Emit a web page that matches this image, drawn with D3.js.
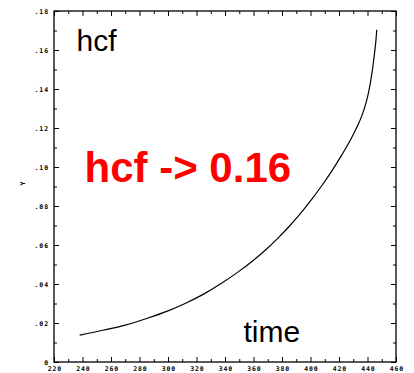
<!DOCTYPE html>
<html>
<head>
<meta charset="utf-8">
<script src="https://cdn.jsdelivr.net/npm/d3@7"></script>
<style>
  html, body { margin: 0; padding: 0; background: #fff; }
  svg { display: block; }
  .tick text { font-family: "DejaVu Sans Mono", monospace; font-weight: bold; font-size: 6.5px; letter-spacing: 0.9px; fill: #000; }
  .tick line { stroke: #000; stroke-width: 1; }
</style>
</head>
<body>
<svg id="chart" width="414" height="373"></svg>
<script>
// hcf as a function of time
const times = [238, 255, 270, 285, 300, 312, 325, 337, 350, 360, 369, 377, 385, 393, 400, 408, 415, 422, 428, 432, 436, 439, 441, 443, 444, 445, 446, 446.5];
const hcf   = [0.0138, 0.0164, 0.0189, 0.0223, 0.0262, 0.0300, 0.0348, 0.0401, 0.0466, 0.0522, 0.0578, 0.0634, 0.0695, 0.0762, 0.0826, 0.0905, 0.0980, 0.1062, 0.1138, 0.1196, 0.1262, 0.1330, 0.1392, 0.1476, 0.1528, 0.1588, 0.1656, 0.1704];

// axis ticks
const xMajorTicks = [220, 240, 260, 280, 300, 320, 340, 360, 380, 400, 420, 440, 460];
const xMinorTicks = [230, 250, 270, 290, 310, 330, 350, 370, 390, 410, 430, 450];
const yMajorTicks = [0, 0.02, 0.04, 0.06, 0.08, 0.10, 0.12, 0.14, 0.16, 0.18];
const yMinorTicks = [0.01, 0.03, 0.05, 0.07, 0.09, 0.11, 0.13, 0.15, 0.17];

const svg = d3.select("#chart");
const plotL = 54, plotR = 396, plotT = 11, plotB = 362;

const x = d3.scaleLinear().domain([220, 460]).range([plotL, plotR]);
const y = d3.scaleLinear().domain([0, 0.18]).range([plotB, plotT]);

const yFmt = d => d === 0 ? "0" : d3.format(".2f")(d).replace(/^0/, "");

function addAxis(axis, tx, ty) {
  const g = svg.append("g").attr("transform", `translate(${tx},${ty})`).call(axis);
  g.select(".domain").remove();
  return g;
}

// bottom
const gb = addAxis(d3.axisBottom(x).tickValues(xMajorTicks).tickSize(-5).tickSizeOuter(0).tickPadding(4.5).tickFormat(d3.format("d")), 0, plotB);
gb.selectAll("text").attr("dx", "0.45px");
addAxis(d3.axisBottom(x).tickValues(xMinorTicks).tickSize(-3).tickSizeOuter(0).tickFormat(""), 0, plotB);
// top
addAxis(d3.axisTop(x).tickValues(xMajorTicks).tickSize(-5).tickSizeOuter(0).tickFormat(""), 0, plotT);
addAxis(d3.axisTop(x).tickValues(xMinorTicks).tickSize(-3).tickSizeOuter(0).tickFormat(""), 0, plotT);
// left
addAxis(d3.axisLeft(y).tickValues(yMajorTicks).tickSize(-5).tickSizeOuter(0).tickPadding(5).tickFormat(yFmt), plotL, 0);
addAxis(d3.axisLeft(y).tickValues(yMinorTicks).tickSize(-3).tickSizeOuter(0).tickFormat(""), plotL, 0);
// right
addAxis(d3.axisRight(y).tickValues(yMajorTicks).tickSize(-5).tickSizeOuter(0).tickFormat(""), plotR, 0);
addAxis(d3.axisRight(y).tickValues(yMinorTicks).tickSize(-3).tickSizeOuter(0).tickFormat(""), plotR, 0);

// frame
svg.append("rect")
  .attr("x", plotL).attr("y", plotT)
  .attr("width", plotR - plotL).attr("height", plotB - plotT)
  .attr("fill", "none").attr("stroke", "#000").attr("stroke-width", 1.3);

// y axis title
svg.append("text")
  .attr("transform", "translate(25,183.5) rotate(-90)")
  .attr("text-anchor", "middle")
  .attr("font-family", "DejaVu Sans Mono, monospace")
  .attr("font-weight", "bold")
  .attr("font-size", 6.5)
  .text("Y");

// curve
const pts = times.map((t, i) => [t, hcf[i]]);
svg.append("path")
  .datum(pts)
  .attr("fill", "none")
  .attr("stroke", "#000")
  .attr("stroke-width", 1.2)
  .attr("d", d3.line().x(d => x(d[0])).y(d => y(d[1])).curve(d3.curveMonotoneX));

// annotations
svg.append("text")
  .attr("x", 76.5).attr("y", 51)
  .attr("font-family", "Liberation Sans, Arial, sans-serif")
  .attr("font-size", 30)
  .attr("fill", "#000")
  .text("hcf");

svg.append("text")
  .attr("x", 84.5).attr("y", 182.3)
  .attr("font-family", "Liberation Sans, Arial, sans-serif")
  .attr("font-weight", "bold")
  .attr("font-size", 42)
  .attr("fill", "#ff0000")
  .text("hcf -> 0.16");

svg.append("text")
  .attr("x", 243.5).attr("y", 342)
  .attr("font-family", "Liberation Sans, Arial, sans-serif")
  .attr("font-size", 30)
  .attr("fill", "#000")
  .text("time");
</script>
</body>
</html>
